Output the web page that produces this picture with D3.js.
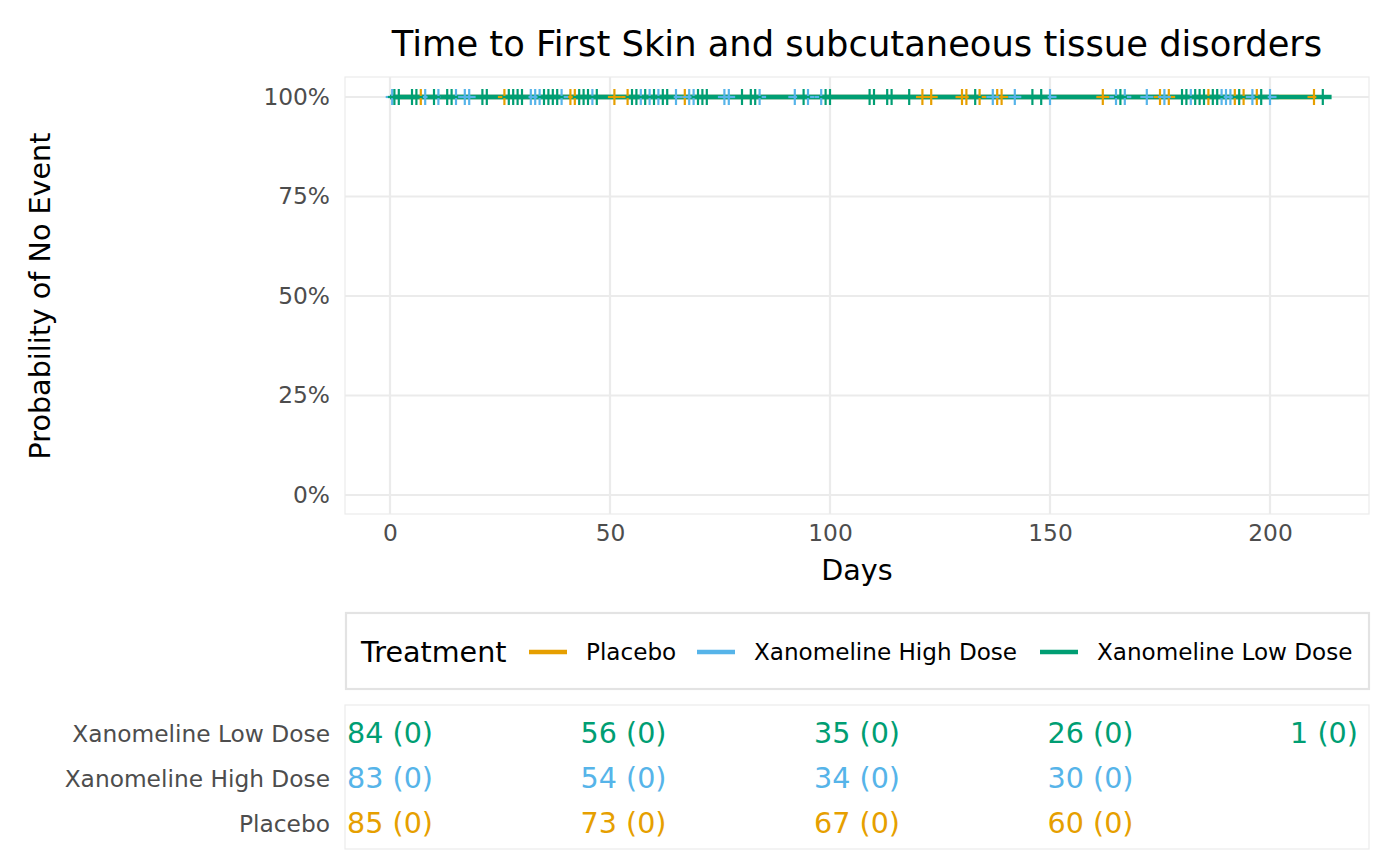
<!DOCTYPE html>
<html><head><meta charset="utf-8">
<script src="https://cdn.jsdelivr.net/npm/d3@7"></script>
<style>body{margin:0;background:#fff;} svg{display:block;font-family:"DejaVu Sans",sans-serif;}</style>
</head><body><svg id="c" width="1400" height="865"></svg>
<script>
const groups = ["Placebo", "Xanomeline High Dose", "Xanomeline Low Dose"];
const colors = ["#E69F00", "#56B4E9", "#009E73"];
const lineEnd = [210, 202, 214];
const survival = [1, 1, 1];
const censorPlacebo = [7, 26, 41, 42, 51, 54, 67, 121, 123, 130, 131, 134, 138, 139, 162, 175, 177, 186, 192, 194, 197, 210];
const censorHigh = [0.5, 8, 11, 15, 17, 18, 32, 33, 34, 39, 46, 57, 59, 61, 65, 68, 69, 76, 77, 84, 92, 95, 98, 137, 142, 150, 165, 167, 172, 176, 182, 189, 190, 191, 196, 200];
const censorLow = [1, 2, 5, 6, 10, 13, 14, 21, 22, 27, 28, 29, 30, 35, 36, 37, 38, 43, 44, 45, 47, 55, 56, 58, 60, 62, 63, 70, 71, 72, 80, 82, 83, 94, 99, 100, 109, 110, 113, 114, 118, 133, 146, 148, 166, 180, 181, 183, 184, 185, 187, 188, 193, 198, 212];
const xTicks = [0, 50, 100, 150, 200];
const yTicks = [0, 0.25, 0.5, 0.75, 1];
const riskTimes = [0, 50, 100, 150, 200];
const riskPlacebo = ["85 (0)", "73 (0)", "67 (0)", "60 (0)"];
const riskHigh = ["83 (0)", "54 (0)", "34 (0)", "30 (0)"];
const riskLow = ["84 (0)", "56 (0)", "35 (0)", "26 (0)", "1 (0)"];
const titleText = "Time to First Skin and subcutaneous tissue disorders";

const svg = d3.select("#c");
const P = {l: 345, r: 1369, t: 77, b: 514};
const x = d3.scaleLinear().domain([0, 200]).range([390, 1270]);
const y = d3.scaleLinear().domain([0, 1]).range([495, 97]);
const grid = "#ebebeb";

svg.append("rect").attr("x", P.l).attr("y", P.t).attr("width", P.r - P.l).attr("height", P.b - P.t)
  .attr("fill", "none").attr("stroke", grid).attr("stroke-width", 1.2);
svg.append("g").selectAll("line").data(xTicks).join("line")
  .attr("x1", d => x(d)).attr("x2", d => x(d)).attr("y1", P.t).attr("y2", P.b)
  .attr("stroke", grid).attr("stroke-width", 2.2);
svg.append("g").selectAll("line").data(yTicks).join("line")
  .attr("x1", P.l).attr("x2", P.r).attr("y1", d => y(d)).attr("y2", d => y(d))
  .attr("stroke", grid).attr("stroke-width", 2.2);

const xAxis = svg.append("g").attr("transform", `translate(0,${P.b})`)
  .call(d3.axisBottom(x).tickValues(xTicks).tickSize(0).tickPadding(10));
xAxis.select(".domain").remove();
xAxis.selectAll("text").attr("font-size", 23.3).attr("fill", "#4d4d4d").attr("font-family", "DejaVu Sans");
const yAxis = svg.append("g").attr("transform", `translate(${P.l},0)`)
  .call(d3.axisLeft(y).tickValues(yTicks).tickSize(0).tickPadding(15).tickFormat(d3.format(".0%")));
yAxis.select(".domain").remove();
yAxis.selectAll("text").attr("font-size", 23.3).attr("fill", "#4d4d4d").attr("font-family", "DejaVu Sans");

const censors = [censorPlacebo, censorHigh, censorLow];
const line = d3.line().x(d => x(d[0])).y(d => y(d[1])).curve(d3.curveStepAfter);
groups.forEach((g, i) => {
  svg.append("path").datum([[0, survival[i]], [lineEnd[i], survival[i]]])
    .attr("d", line).attr("fill", "none").attr("stroke", colors[i]).attr("stroke-width", 4.5);
});
groups.forEach((g, i) => {
  const gg = svg.append("g").attr("stroke", colors[i]).attr("stroke-width", 2.2);
  censors[i].forEach(t => {
    gg.append("line").attr("x1", x(t)).attr("x2", x(t)).attr("y1", y(survival[i]) - 8).attr("y2", y(survival[i]) + 8);
    gg.append("line").attr("x1", x(t) - 6.5).attr("x2", x(t) + 6.5).attr("y1", y(survival[i])).attr("y2", y(survival[i]));
  });
});

svg.append("text").attr("x", 857).attr("y", 56).attr("text-anchor", "middle").attr("font-size", 35.3).attr("fill", "#000").text(titleText);
svg.append("text").attr("x", 857).attr("y", 580).attr("text-anchor", "middle").attr("font-size", 28.6).attr("fill", "#000").text("Days");
svg.append("text").attr("transform", "translate(50,296) rotate(-90)").attr("text-anchor", "middle").attr("font-size", 28.6).attr("fill", "#000").text("Probability of No Event");

svg.append("rect").attr("x", 346).attr("y", 613).attr("width", 1023).attr("height", 76)
  .attr("fill", "none").attr("stroke", "#e3e3e3").attr("stroke-width", 2.2);
svg.append("text").attr("x", 361).attr("y", 652).attr("dominant-baseline", "central").attr("font-size", 28.6).text("Treatment");
const legKeyX = [529, 697, 1040];
const legTextX = [586, 754, 1097];
groups.forEach((g, i) => {
  svg.append("line").attr("x1", legKeyX[i]).attr("x2", legKeyX[i] + 38).attr("y1", 652).attr("y2", 652)
    .attr("stroke", colors[i]).attr("stroke-width", 4.5);
  svg.append("text").attr("x", legTextX[i]).attr("y", 652).attr("dominant-baseline", "central").attr("font-size", 23.1).text(g);
});

const rx = d3.scaleLinear().domain([0, 200]).range([390, 1324]);
svg.append("rect").attr("x", 345).attr("y", 705).attr("width", 1024).attr("height", 144)
  .attr("fill", "none").attr("stroke", grid).attr("stroke-width", 1.2);
const rows = [riskLow, riskHigh, riskPlacebo];
const rowNames = [groups[2], groups[1], groups[0]];
const rowColors = [colors[2], colors[1], colors[0]];
const rowY = [733, 778, 823];
rows.forEach((r, j) => {
  svg.append("text").attr("x", 330).attr("y", rowY[j]).attr("text-anchor", "end").attr("dominant-baseline", "central")
    .attr("font-size", 23.3).attr("fill", "#4d4d4d").text(rowNames[j]);
  r.forEach((v, k) => {
    svg.append("text").attr("x", rx(riskTimes[k])).attr("y", rowY[j]).attr("text-anchor", "middle").attr("dominant-baseline", "central")
      .attr("font-size", 28.6).attr("fill", rowColors[j]).text(v);
  });
});
</script></body></html>
